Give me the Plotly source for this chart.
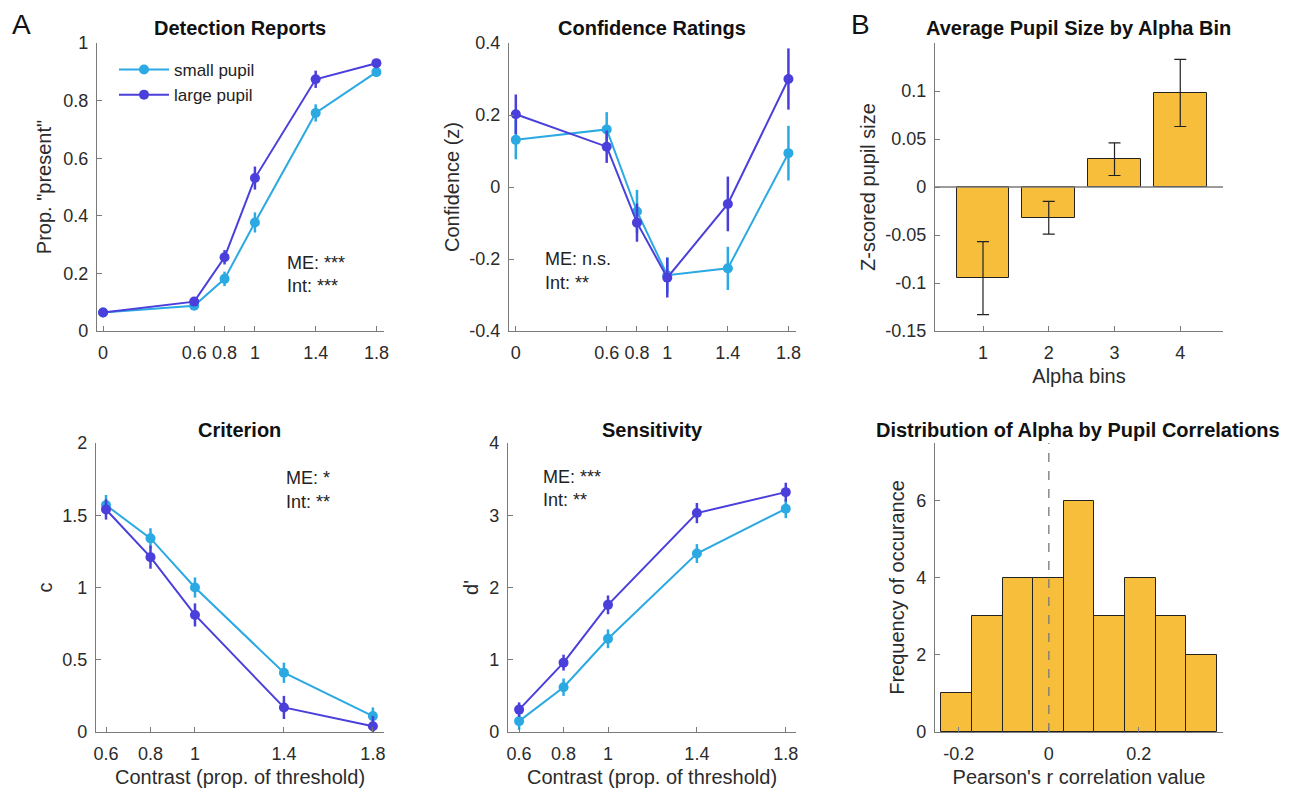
import plotly.graph_objects as go

# ---------------- data ----------------
contrast_all = [0, 0.6, 0.8, 1.0, 1.4, 1.8]
contrast_sig = [0.6, 0.8, 1.0, 1.4, 1.8]

det_small = [0.064, 0.088, 0.181, 0.377, 0.757, 0.899]
det_small_err = [0.006, 0.010, 0.025, 0.035, 0.030, 0.015]
det_large = [0.064, 0.102, 0.256, 0.531, 0.874, 0.930]
det_large_err = [0.006, 0.010, 0.025, 0.040, 0.030, 0.010]

conf_small = [0.131, 0.160, -0.068, -0.245, -0.226, 0.094]
conf_small_err = [0.054, 0.048, 0.060, 0.050, 0.060, 0.076]
conf_large = [0.202, 0.112, -0.099, -0.252, -0.047, 0.300]
conf_large_err = [0.055, 0.045, 0.053, 0.055, 0.076, 0.085]

crit_small = [1.57, 1.34, 1.00, 0.41, 0.11]
crit_small_err = [0.07, 0.07, 0.07, 0.07, 0.06]
crit_large = [1.54, 1.21, 0.81, 0.17, 0.04]
crit_large_err = [0.07, 0.08, 0.08, 0.08, 0.07]

sens_small = [0.15, 0.62, 1.29, 2.47, 3.09]
sens_small_err = [0.12, 0.12, 0.13, 0.13, 0.13]
sens_large = [0.31, 0.96, 1.76, 3.03, 3.32]
sens_large_err = [0.10, 0.11, 0.13, 0.14, 0.13]

alpha_bins = [1, 2, 3, 4]
pupil_mean = [-0.095, -0.032, 0.029, 0.098]
pupil_err = [0.038, 0.017, 0.017, 0.035]

hist_edges = [-0.239, -0.171, -0.103, -0.035, 0.033, 0.101, 0.169, 0.237, 0.305, 0.373]
hist_counts = [1, 3, 4, 4, 6, 3, 4, 3, 2]

# ---------------- style ----------------
C_SMALL = "#2BA9E2"
C_LARGE = "#4A3FDA"
C_BAR = "#F6BE3B"
AX_COL = "#7a7a7a"
TXT_COL = "#2b2b2b"
FONT = "Liberation Sans, Arial, sans-serif"
W, H = 1295, 792
OFF = 8  # page body margin

def xd(a, b):
    return [(a - OFF) / W, (b - OFF) / W]

def yd(top, bottom):
    return [1 - (bottom - OFF) / H, 1 - (top - OFF) / H]

def px(x):
    return (x - OFF) / W

def py(y):
    return 1 - (y - OFF) / H

fig = go.Figure()

def add_series(x, y, err, color, name, xa, ya, show):
    fig.add_trace(go.Scatter(
        x=x, y=y, mode="lines+markers", name=name,
        line=dict(color=color, width=2),
        marker=dict(color=color, size=10),
        error_y=dict(type="data", array=err, color=color, thickness=2.5, width=0),
        xaxis=xa, yaxis=ya, showlegend=show, legendgroup=name,
    ))

add_series(contrast_all, det_small, det_small_err, C_SMALL, "small pupil", "x", "y", True)
add_series(contrast_all, det_large, det_large_err, C_LARGE, "large pupil", "x", "y", True)
add_series(contrast_all, conf_small, conf_small_err, C_SMALL, "small pupil", "x2", "y2", False)
add_series(contrast_all, conf_large, conf_large_err, C_LARGE, "large pupil", "x2", "y2", False)
add_series(contrast_sig, crit_small, crit_small_err, C_SMALL, "small pupil", "x4", "y4", False)
add_series(contrast_sig, crit_large, crit_large_err, C_LARGE, "large pupil", "x4", "y4", False)
add_series(contrast_sig, sens_small, sens_small_err, C_SMALL, "small pupil", "x5", "y5", False)
add_series(contrast_sig, sens_large, sens_large_err, C_LARGE, "large pupil", "x5", "y5", False)

# pupil bar chart
fig.add_trace(go.Bar(
    x=alpha_bins, y=pupil_mean, width=0.8,
    marker=dict(color=C_BAR, line=dict(color="#222222", width=1)),
    error_y=dict(type="data", array=pupil_err, color="#222222", thickness=1.2, width=6),
    xaxis="x3", yaxis="y3", showlegend=False,
))

# histogram
centers = [(hist_edges[i] + hist_edges[i + 1]) / 2 for i in range(len(hist_counts))]
widths = [hist_edges[i + 1] - hist_edges[i] for i in range(len(hist_counts))]
fig.add_trace(go.Bar(
    x=centers, y=hist_counts, width=widths,
    marker=dict(color=C_BAR, line=dict(color="#222222", width=1)),
    xaxis="x6", yaxis="y6", showlegend=False,
))

tickfont = dict(family=FONT, size=18, color=TXT_COL)
titlefont = dict(family=FONT, size=20, color=TXT_COL)

def axis_common(**kw):
    d = dict(showline=True, linecolor=AX_COL, linewidth=1.3, ticks="inside",
             ticklen=5, tickcolor=AX_COL, showgrid=False, zeroline=False,
             tickfont=tickfont, mirror=False, automargin=False)
    d.update(kw)
    return d

def xaxis(**kw):
    return axis_common(ticklabelstandoff=5, **kw)

def yaxis(**kw):
    return axis_common(ticklabelstandoff=4, **kw)

contrast_ticks_all = [0, 0.6, 0.8, 1, 1.4, 1.8]
contrast_ticks_sig = [0.6, 0.8, 1, 1.4, 1.8]

fig.update_layout(
    width=W, height=H,
    margin=dict(l=0, r=0, t=0, b=0, autoexpand=False),
    paper_bgcolor="white", plot_bgcolor="white",
    font=dict(family=FONT, color=TXT_COL),
    bargap=0,
    xaxis=xaxis(domain=xd(97, 384), range=[-0.04, 1.85], anchor="y",
                tickvals=contrast_ticks_all, ticktext=["0", "0.6", "0.8", "1", "1.4", "1.8"]),
    yaxis=yaxis(domain=yd(43, 331), range=[0, 1], anchor="x",
                tickvals=[0, 0.2, 0.4, 0.6, 0.8, 1], ticktext=["0", "0.2", "0.4", "0.6", "0.8", "1"],
                title=dict(text='Prop. "present"', font=titlefont, standoff=6)),
    xaxis2=xaxis(domain=xd(509, 796), range=[-0.045, 1.85], anchor="y2",
                 tickvals=contrast_ticks_all, ticktext=["0", "0.6", "0.8", "1", "1.4", "1.8"]),
    yaxis2=yaxis(domain=yd(43, 331), range=[-0.4, 0.4], anchor="x2",
                 tickvals=[-0.4, -0.2, 0, 0.2, 0.4], ticktext=["-0.4", "-0.2", "0", "0.2", "0.4"],
                 title=dict(text="Confidence (z)", font=titlefont, standoff=4)),
    xaxis3=xaxis(domain=xd(935, 1223), range=[0.27, 4.65], anchor="y3",
                 tickvals=[1, 2, 3, 4],
                 title=dict(text="Alpha bins", font=titlefont, standoff=7)),
    yaxis3=yaxis(domain=yd(43, 331), range=[-0.15, 0.15], anchor="x3",
                 tickvals=[-0.15, -0.1, -0.05, 0, 0.05, 0.1],
                 ticktext=["-0.15", "-0.1", "-0.05", "0", "0.05", "0.1"],
                 title=dict(text="Z-scored pupil size", font=titlefont, standoff=4)),
    xaxis4=xaxis(domain=xd(96, 384), range=[0.555, 1.85], anchor="y4",
                 tickvals=contrast_ticks_sig, ticktext=["0.6", "0.8", "1", "1.4", "1.8"],
                 title=dict(text="Contrast (prop. of threshold)", font=titlefont, standoff=7)),
    yaxis4=yaxis(domain=yd(443, 732), range=[0, 2], anchor="x4",
                 tickvals=[0, 0.5, 1, 1.5, 2], ticktext=["0", "0.5", "1", "1.5", "2"],
                 title=dict(text="c", font=titlefont, standoff=4)),
    xaxis5=xaxis(domain=xd(508, 796), range=[0.55, 1.846], anchor="y5",
                 tickvals=contrast_ticks_sig, ticktext=["0.6", "0.8", "1", "1.4", "1.8"],
                 title=dict(text="Contrast (prop. of threshold)", font=titlefont, standoff=7)),
    yaxis5=yaxis(domain=yd(443, 732), range=[0, 4], anchor="x5",
                 tickvals=[0, 1, 2, 3, 4],
                 title=dict(text="d'", font=titlefont, standoff=5)),
    xaxis6=xaxis(domain=xd(935, 1223), range=[-0.253, 0.387], anchor="y6",
                 tickvals=[-0.2, 0, 0.2], ticktext=["-0.2", "0", "0.2"],
                 title=dict(text="Pearson's r correlation value", font=titlefont, standoff=7)),
    yaxis6=yaxis(domain=yd(443, 732), range=[0, 7.5], anchor="x6",
                 tickvals=[0, 2, 4, 6],
                 title=dict(text="Frequency of occurance", font=titlefont, standoff=6)),
    legend=dict(x=px(114), y=py(52), xanchor="left", yanchor="top",
                bgcolor="rgba(0,0,0,0)", borderwidth=0,
                font=dict(family=FONT, size=17, color="#222222"),
                tracegroupgap=0, itemwidth=50),
)

# zero line in bar chart and dashed line in histogram
fig.add_shape(type="line", xref="x3", yref="y3", x0=0.27, x1=4.65, y0=0, y1=0,
              line=dict(color=AX_COL, width=1.3), layer="above")
fig.add_shape(type="line", xref="x6", yref="y6", x0=0, x1=0, y0=0, y1=7.5,
              line=dict(color="#777777", width=1.3, dash="dash"), layer="above")

# panel titles
titles = [
    ("Detection Reports", 240, 28),
    ("Confidence Ratings", 652, 28),
    ("Average Pupil Size by Alpha Bin", 1078, 28),
    ("Criterion", 240, 430),
    ("Sensitivity", 652, 430),
    ("Distribution of Alpha by Pupil Correlations", 1078, 430),
]
for text, tx, ty in titles:
    fig.add_annotation(text="<b>%s</b>" % text, x=px(tx), y=py(ty), xref="paper", yref="paper",
                       showarrow=False, xanchor="center", yanchor="middle",
                       font=dict(family=FONT, size=20, color="#111111"))

# panel letters
for text, lx, ly in [("A", 21, 24), ("B", 860, 24)]:
    fig.add_annotation(text=text, x=px(lx), y=py(ly), xref="paper", yref="paper",
                       showarrow=False, xanchor="center", yanchor="middle",
                       font=dict(family=FONT, size=28, color="#111111"))

# statistics annotations
stats = [
    ("ME: ***", "x", "y", 1.2, 0.236),
    ("Int: ***", "x", "y", 1.2, 0.156),
    ("ME: n.s.", "x2", "y2", 0.18, -0.20),
    ("Int: **", "x2", "y2", 0.18, -0.267),
    ("ME: *", "x4", "y4", 1.40, 1.757),
    ("Int: **", "x4", "y4", 1.40, 1.59),
    ("ME: ***", "x5", "y5", 0.70, 3.53),
    ("Int: **", "x5", "y5", 0.70, 3.21),
]
for text, xr, yr, xv, yv in stats:
    fig.add_annotation(text=text, x=xv, y=yv, xref=xr, yref=yr, showarrow=False,
                       xanchor="left", yanchor="middle",
                       font=dict(family=FONT, size=18, color="#222222"))

fig.write_html("out.html")
